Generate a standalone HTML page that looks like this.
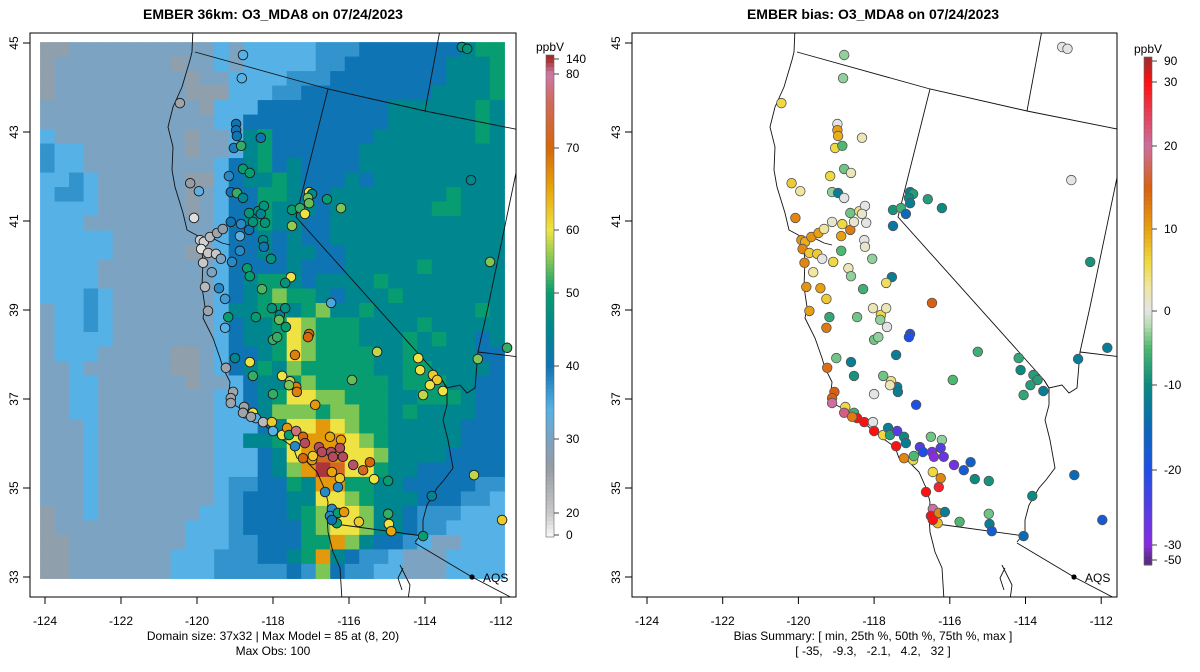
<!DOCTYPE html>
<html><head><meta charset="utf-8"><style>
html,body{margin:0;padding:0;background:#fff;}
svg{display:block;font-family:"Liberation Sans",Arial,sans-serif;}
</style></head><body>
<svg id="chart" width="1200" height="672" viewBox="0 0 1200 672" xmlns="http://www.w3.org/2000/svg">
<defs>
<clipPath id="clipL"><rect x="30" y="33" width="486" height="564"/></clipPath>
<clipPath id="clipR"><rect x="632" y="33" width="485" height="564"/></clipPath>
</defs>
<rect x="0" y="0" width="1200" height="672" fill="#fff"/>
<text x="273" y="19" text-anchor="middle" font-size="14" font-weight="bold">EMBER 36km: O3_MDA8 on 07/24/2023</text>
<text x="873" y="19" text-anchor="middle" font-size="14" font-weight="bold">EMBER bias: O3_MDA8 on 07/24/2023</text>
<g id="gridL" clip-path="url(#clipL)"></g>
<g id="mapL" clip-path="url(#clipL)"></g>
<g id="mapR" clip-path="url(#clipR)"></g>
<g id="ptsL" clip-path="url(#clipL)"></g>
<g id="ptsR" clip-path="url(#clipR)"></g>
<rect x="30" y="33" width="486" height="564" fill="none" stroke="#000" stroke-width="1"/>
<rect x="632" y="33" width="485" height="564" fill="none" stroke="#000" stroke-width="1"/>
<g id="axes"></g>
<g id="cbL"></g>
<g id="cbR"></g>
<text x="273" y="640" text-anchor="middle" font-size="12">Domain size: 37x32 | Max Model = 85 at (8, 20)</text>
<text x="273" y="655" text-anchor="middle" font-size="12">Max Obs: 100</text>
<text x="873" y="640" text-anchor="middle" font-size="12">Bias Summary: [ min, 25th %, 50th %, 75th %, max ]</text>
<text x="873" y="655" text-anchor="middle" font-size="12" xml:space="preserve">[ -35,   -9.3,   -2.1,   4.2,   32 ]</text>
</svg>
<script>
// ---- data ----
const gridRows = [
"gghhhhhhhhhhlhlllllmmmbbbbbbbtnn",
"ghhhhhhhhghhlhlllllmmbbbbbbbtttn",
"ghhhhhhhhhghhllllmmmbbbbbbbbtttn",
"ghhhhhhhhhggglllmmbbbbbbbbbttttn",
"hhhhhhhhhhhglllbbbbbbbbbttttttnt",
"hhhhhhhhhhhhllbbbbbbbbbbttttttnt",
"lhhhhhhhhhghhltnbbbbbbbtttttttnt",
"mllhhhhhhhghhltnbbbbbbtttttttttt",
"mllhhhhhhhhhlbtnbtbbbbtttttttttt",
"llmlhhhhhhgglbttntbbbtbttttttttt",
"lmmlhhhhhhghlbbnntbbttttttttnttt",
"llllhhhhhhghlbbntttbtttttttnnttt",
"lllhhhhhhhhhlbtnttbbtttttttttttt",
"lllllhhhhhhhlbbtbtbbtttttttttttt",
"lllllhhhhhgglbbtbttbbttttttttttt",
"llllhhhhhhhhlbbbbtbbbtttttnttttt",
"llllhhhhhhhhlbtnntbttttntttttttt",
"lllmlhhhhhhhlbtnknntbtttnttttttt",
"hllmlhhhhhhhlttnntnkttntttttttnt",
"hllmlhhhhhhhlbttnyknnnttttnttttt",
"hllllhhhhhhhlbttnyknnntttntnttbt",
"hlllhhhhhgghlbbtnyknnnnttnttttbb",
"hhlhhhhhhgghlbtntknnnnnttnnttttb",
"hhllhhhhhhghhlbttnknnnnntnnnttbb",
"hhllhhhhhhhhllbtnyykknnnttnnntbb",
"hhllhhhhhhhhllbtkkknkknntnttttbb",
"hhhlhhhhhhhhlllbtyyoyknntttttbbb",
"hhhlhhhhhhhhllttnyoooykntttttbbb",
"hhhlhhhhhhhhlllbtyovoyykttttbbbb",
"hhhlhhhhhhhhlllbtkorvyynttbbbbbb",
"hhhlhhhhhhhhlmmbbntoonnttbbbbbmm",
"hhhlhhhhhhhhlmbbbttyykntttbbbmml",
"ghhlhhhhhhhllmbbbtnkyykttbmmmlll",
"ghhhhhhhhhlllmbbbbnkyykttbmmllll",
"gghhhhhhhhlllmmbbbnnoktbbmlhhlll",
"gghhhhhhhlllmmmbbtnotbmmlhhhllll",
"gghhhhhhhlllmmmmmbmkbmmllhhhllll"
];
const cellCodes = ['g','h','l','m','b','t','n','k','y','o','v','r'];
const cellValues = [27,30,34,37,40,45,50,55,60,66,72,132];

const stLon = [-118.79,-118.82,-120.45,-118.97,-118.97,-118.95,-118.32,-119.03,-118.84,-118.79,-118.61,-119.16,-120.18,-119.95,-119.11,-118.95,-118.79,-117.05,-116.97,-117.08,-117.05,-116.58,-116.21,-117.50,-117.29,-117.16,-117.50,-112.79,-113.03,-112.89,-112.29,-120.08,-119.92,-119.82,-119.66,-119.47,-119.32,-119.89,-119.71,-119.50,-119.37,-119.84,-119.61,-119.79,-119.42,-119.26,-119.11,-118.84,-118.63,-118.53,-118.63,-118.39,-118.24,-118.32,-118.21,-118.87,-118.26,-118.24,-118.87,-119.08,-118.05,-118.68,-118.61,-117.53,-117.68,-118.29,-116.47,-119.71,-119.18,-118.45,-119.26,-118.03,-117.82,-117.68,-117.84,-117.66,-118.00,-117.89,-117.05,-117.08,-117.42,-119.00,-119.24,-118.61,-118.53,-117.76,-117.55,-117.39,-117.37,-117.58,-118.00,-116.89,-115.92,-115.26,-119.05,-119.11,-119.11,-118.76,-118.79,-118.53,-118.45,-118.58,-118.26,-118.03,-118.00,-117.76,-117.63,-117.58,-117.39,-117.21,-117.16,-117.42,-116.50,-116.21,-116.79,-116.71,-116.47,-116.24,-116.42,-116.16,-117.21,-116.97,-116.95,-115.89,-115.63,-115.45,-115.34,-114.97,-116.24,-116.29,-116.45,-116.63,-116.45,-116.50,-116.29,-116.13,-116.32,-116.45,-115.74,-114.97,-114.95,-114.89,-114.05,-113.82,-112.71,-111.97,-112.61,-111.84,-114.18,-114.13,-113.79,-113.68,-113.87,-114.05,-113.53];
const stLat = [44.73,44.21,43.65,43.18,43.04,42.91,42.87,42.64,42.69,42.17,42.08,42.01,41.85,41.67,41.65,41.63,41.52,41.65,41.61,41.52,41.40,41.49,41.29,41.25,41.29,41.16,40.89,41.92,44.91,44.87,40.08,41.07,40.57,40.53,40.64,40.73,40.82,40.37,40.28,40.26,40.15,40.06,39.85,39.52,39.49,39.25,40.98,40.93,40.80,40.98,41.18,41.22,41.34,41.16,40.96,40.66,40.57,40.42,40.33,40.08,40.15,39.94,39.76,39.74,39.61,39.47,39.16,38.98,38.84,38.84,38.60,39.04,38.89,39.04,38.78,38.62,38.33,38.39,38.46,38.39,37.99,37.92,37.70,37.83,37.52,37.52,37.40,37.27,37.16,37.31,37.11,36.87,37.43,38.06,37.16,37.02,36.91,36.82,36.69,36.69,36.57,36.60,36.48,36.48,36.28,36.19,36.35,36.19,36.28,36.15,36.01,35.94,36.15,36.08,35.92,35.81,35.81,35.90,35.70,35.70,35.67,35.63,35.72,35.52,35.40,35.58,35.20,35.16,35.22,35.02,35.36,34.91,34.53,34.37,34.44,34.46,34.21,34.28,34.24,34.42,34.19,34.03,33.92,34.82,35.29,34.28,37.90,38.15,37.92,37.65,37.54,37.43,37.31,37.09,37.18];
const stObs = [34,34,25,40,40,40,40,39,52,50,50,38,26,33,40,52,45,60,46,55,54,50,55,50,52,60,56,45,48,48,55,10,18,15,22,25,27,8,20,20,30,20,30,22,38,36,40,38,40,48,48,48,48,45,48,33,46,40,38,38,48,50,50,60,48,53,35,25,50,50,34,48,45,47,54,50,52,52,70,70,68,45,25,60,52,60,58,68,68,55,52,66,54,58,25,25,25,25,25,60,34,25,22,62,34,60,66,50,78,70,115,38,65,65,115,115,115,115,115,115,70,66,62,110,72,70,60,50,62,38,65,38,38,38,50,66,50,40,62,52,60,65,50,44,58,62,55,52,60,60,62,62,60,58,60];
const stBias = [-3,-3,6,0,10,9,2,6,-5,-4,2,6,7,3,-3,-12,0,-12,-8,-10,-12,-8,-10,-9,-6,-15,-13,0,0,0,-9,12,11,9,11,10,3,12,7,7,0,12,3,11,10,7,1,6,13,1,-4,4,0,1,0,10,0,1,-5,6,-3,2,-3,-12,5,-6,15,10,-7,-4,13,2,6,2,-3,0,-4,-3,-20,-20,-12,-4,14,-12,-9,-4,4,-12,-12,2,0,-20,-5,-6,15,15,20,6,22,-6,30,13,35,0,30,6,-12,-8,-25,-10,-12,35,-4,-3,-25,-20,-28,-25,-30,-27,12,6,-5,-28,-18,-17,-10,-9,12,28,6,30,20,35,12,-12,8,30,-5,-4,-12,-18,-15,-10,-15,-18,-12,-12,-7,-10,-8,-8,-8,-7,-12];

const obsTicks = [140,80,70,60,50,40,30,20,0];
const obsTickY = [59,74,148,230,293,366,439,513,535];
const biasTicks = [90,30,20,10,0,-10,-20,-30,-50];
const biasTickY = [61,82,146,229,311,385,470,545,560];
const lonTicks = [-124,-122,-120,-118,-116,-114,-112];
const latTicks = [33,35,37,39,41,43,45];

// ---- helpers ----
const NS='http://www.w3.org/2000/svg';
function mk(tag, attrs, parent){const e=document.createElementNS(NS,tag);for(const k in attrs)e.setAttribute(k,attrs[k]);parent.appendChild(e);return e;}
function hex(c){return [parseInt(c.slice(1,3),16),parseInt(c.slice(3,5),16),parseInt(c.slice(5,7),16)];}
function interp(stops,v){
  if(v<=stops[0][0])return stops[0][1];
  for(let i=1;i<stops.length;i++){
    if(v<=stops[i][0]){const a=stops[i-1],b=stops[i];const t=(v-a[0])/(b[0]-a[0]);const A=hex(a[1]),B=hex(b[1]);
      return 'rgb('+A.map((x,j)=>Math.round(x+(B[j]-x)*t)).join(',')+')';}
  }
  return stops[stops.length-1][1];
}
const obsStops=[[0,'#f5f5f5'],[20,'#c8c8c8'],[26,'#969da4'],[30,'#7ca4c2'],[34,'#56b2e6'],[40,'#0f74b4'],[45,'#00868e'],[50,'#079d70'],[55,'#7dc655'],[60,'#eee342'],[65,'#e8a50c'],[70,'#d6680a'],[76,'#d06a55'],[80,'#cc79a7'],[140,'#a52a2a']];
const biasStops=[[-50,'#5a2d82'],[-30,'#8a2be2'],[-20,'#1e4fe6'],[-15,'#0a6ab8'],[-10,'#0a8a80'],[-5,'#4db870'],[-2,'#b5dcb0'],[0,'#e4e4e4'],[3,'#f0e6a0'],[6,'#f0d840'],[10,'#e8a010'],[15,'#d96010'],[20,'#cc6fa0'],[30,'#ff1010'],[90,'#a52a2a']];

// axis functions
const XL = lon => 45 + (lon+124)*38.0;
const XR = lon => 647 + (lon+124)*37.85;
const Y  = lat => 577 - (lat-33)*44.5;

// ---- grid ----
const gL=document.getElementById('gridL');
const lon0=-124.13, dlon=0.3818, lat0=45.02, dlat=0.3257;
gridRows.forEach((row,r)=>{
  let s=row; while(s.length<32)s+=s[s.length-1]; s=s.slice(0,32);
  for(let c=0;c<32;c++){
    const v=cellValues[cellCodes.indexOf(s[c])];
    const x0=XL(lon0+c*dlon), x1=XL(lon0+(c+1)*dlon), y0=Y(lat0-r*dlat), y1=Y(lat0-(r+1)*dlat);
    const e=mk('rect',{x:x0.toFixed(2),y:y0.toFixed(2),width:(x1-x0+0.6).toFixed(2),height:(y1-y0+0.6).toFixed(2),fill:interp(obsStops,v)},gL);
    
    
  }
});

// ---- map outlines (left-panel pixel geometry, shifted for right panel) ----
const outlinePaths = [
 "M193,28 L192,52 L190,60 L182,87 L173,107 L168,127 L173,147 L172,170 L175,187 L183,213 L187,230 L200,237 L203,260 L202,287 L205,307 L203,318 L213,338 L220,358 L223,368 L230,382 L228,402 L240,408 L257,418 L270,430 L283,440 L293,447 L297,458 L307,462 L317,472 L325,490 L328,502 L327,515 L328,532 L333,552 L340,568 L342,600",
 "M200,237 L212,238 L222,243 L230,245",
 "M195,52 L328,89 L425,111 L520,130",
 "M440,30 L425,111",
 "M328,89 L296,217 L442,380",
 "M442,380 L447,388 L447,405 L443,420 L448,440 L453,468 L444,480 L437,488 L427,505 L423,520 L423,532 L415,542",
 "M442,380 L447,388 L460,385 L467,393 L475,388 L478,352 L488,307 L517,168",
 "M478,352 L520,357",
 "M328,523 L423,536",
 "M415,543 L472,577 L520,602",
 "M400,565 L405,575 L410,585 L408,600 M403,568 L398,578 L402,590"
];
function drawOutlines(gid, dx){
  const g=document.getElementById(gid);
  outlinePaths.forEach(d=>{
    const p=mk('path',{d:d,fill:'none',stroke:'#111','stroke-width':'0.9',transform:'translate('+dx+',0)'},g);
    
    
  });
  const dot=mk('circle',{cx:472+dx,cy:577,r:2.6,fill:'#000'},g);
  
  
  const t=mk('text',{x:483+dx,y:582,'font-size':'12'},g);t.textContent='AQS';
  
  
}
drawOutlines('mapL',0);
drawOutlines('mapR',602);

// ---- stations ----
const pL=document.getElementById('ptsL'), pR=document.getElementById('ptsR');
for(let i=0;i<stLon.length;i++){
  const a=mk('circle',{cx:XL(stLon[i]).toFixed(1),cy:Y(stLat[i]).toFixed(1),r:4.8,fill:interp(obsStops,stObs[i]),stroke:'#1a1a1a','stroke-width':'0.9'},pL);
  
  
  const b=mk('circle',{cx:XR(stLon[i]).toFixed(1),cy:Y(stLat[i]).toFixed(1),r:4.8,fill:interp(biasStops,stBias[i]),stroke:'#555','stroke-width':'0.8'},pR);
  
  
}

// ---- axes ----
const ax=document.getElementById('axes');
function axes(X, x0){
  lonTicks.forEach(l=>{
    const x=X(l);
    const t=mk('line',{x1:x,x2:x,y1:597,y2:604,stroke:'#000'},ax);
    
    
    const s=mk('text',{x:x,y:625,'text-anchor':'middle','font-size':'12'},ax);s.textContent=String(l);
    
    
  });
  latTicks.forEach(l=>{
    const y=Y(l);
    const t=mk('line',{x1:x0,x2:x0-7,y1:y,y2:y,stroke:'#000'},ax);
    
    
    const s=mk('text',{x:x0-12,y:y,'text-anchor':'middle','font-size':'12',transform:'rotate(-90 '+(x0-12)+' '+y+')'},ax);s.textContent=String(l);
    
    
  });
}
axes(XL,30); axes(XR,632);

// ---- colorbars ----
function colorbar(gid, x, ticks, tys, stops, top, bot){
  const g=document.getElementById(gid);
  const n=120;
  for(let i=0;i<n;i++){
    const y0=top+(bot-top)*i/n, y1=top+(bot-top)*(i+1)/n, ym=(y0+y1)/2;
    let v;
    for(let k=1;k<tys.length;k++){ if(ym<=tys[k]){const t=(ym-tys[k-1])/(tys[k]-tys[k-1]);v=ticks[k-1]+(ticks[k]-ticks[k-1])*Math.max(0,t);break;} }
    if(v===undefined)v=ticks[ticks.length-1];
    const r=mk('rect',{x:x,y:y0.toFixed(2),width:8,height:((y1-y0)+0.5).toFixed(2),fill:interp(stops,v)},g);
    
    
  }
  mk('rect',{x:x,y:top,width:8,height:bot-top,fill:'none',stroke:'#666','stroke-width':'0.6'},g);
  ticks.forEach((tv,k)=>{
    const y=tys[k];
    const l=mk('line',{x1:x+8,x2:x+13,y1:y,y2:y,stroke:'#444'},g);
    
    
    const s=mk('text',{x:x+20,y:y+4,'font-size':'12'},g);s.textContent=String(tv);
    
    
  });
  const tt=mk('text',{x:x+4,y:top-4,'text-anchor':'middle','font-size':'12'},g);tt.textContent='ppbV';
  
  
}
colorbar('cbL',546,obsTicks,obsTickY,obsStops,55,537);
colorbar('cbR',1144,biasTicks,biasTickY,biasStops,57,565);
</script>
</body></html>
